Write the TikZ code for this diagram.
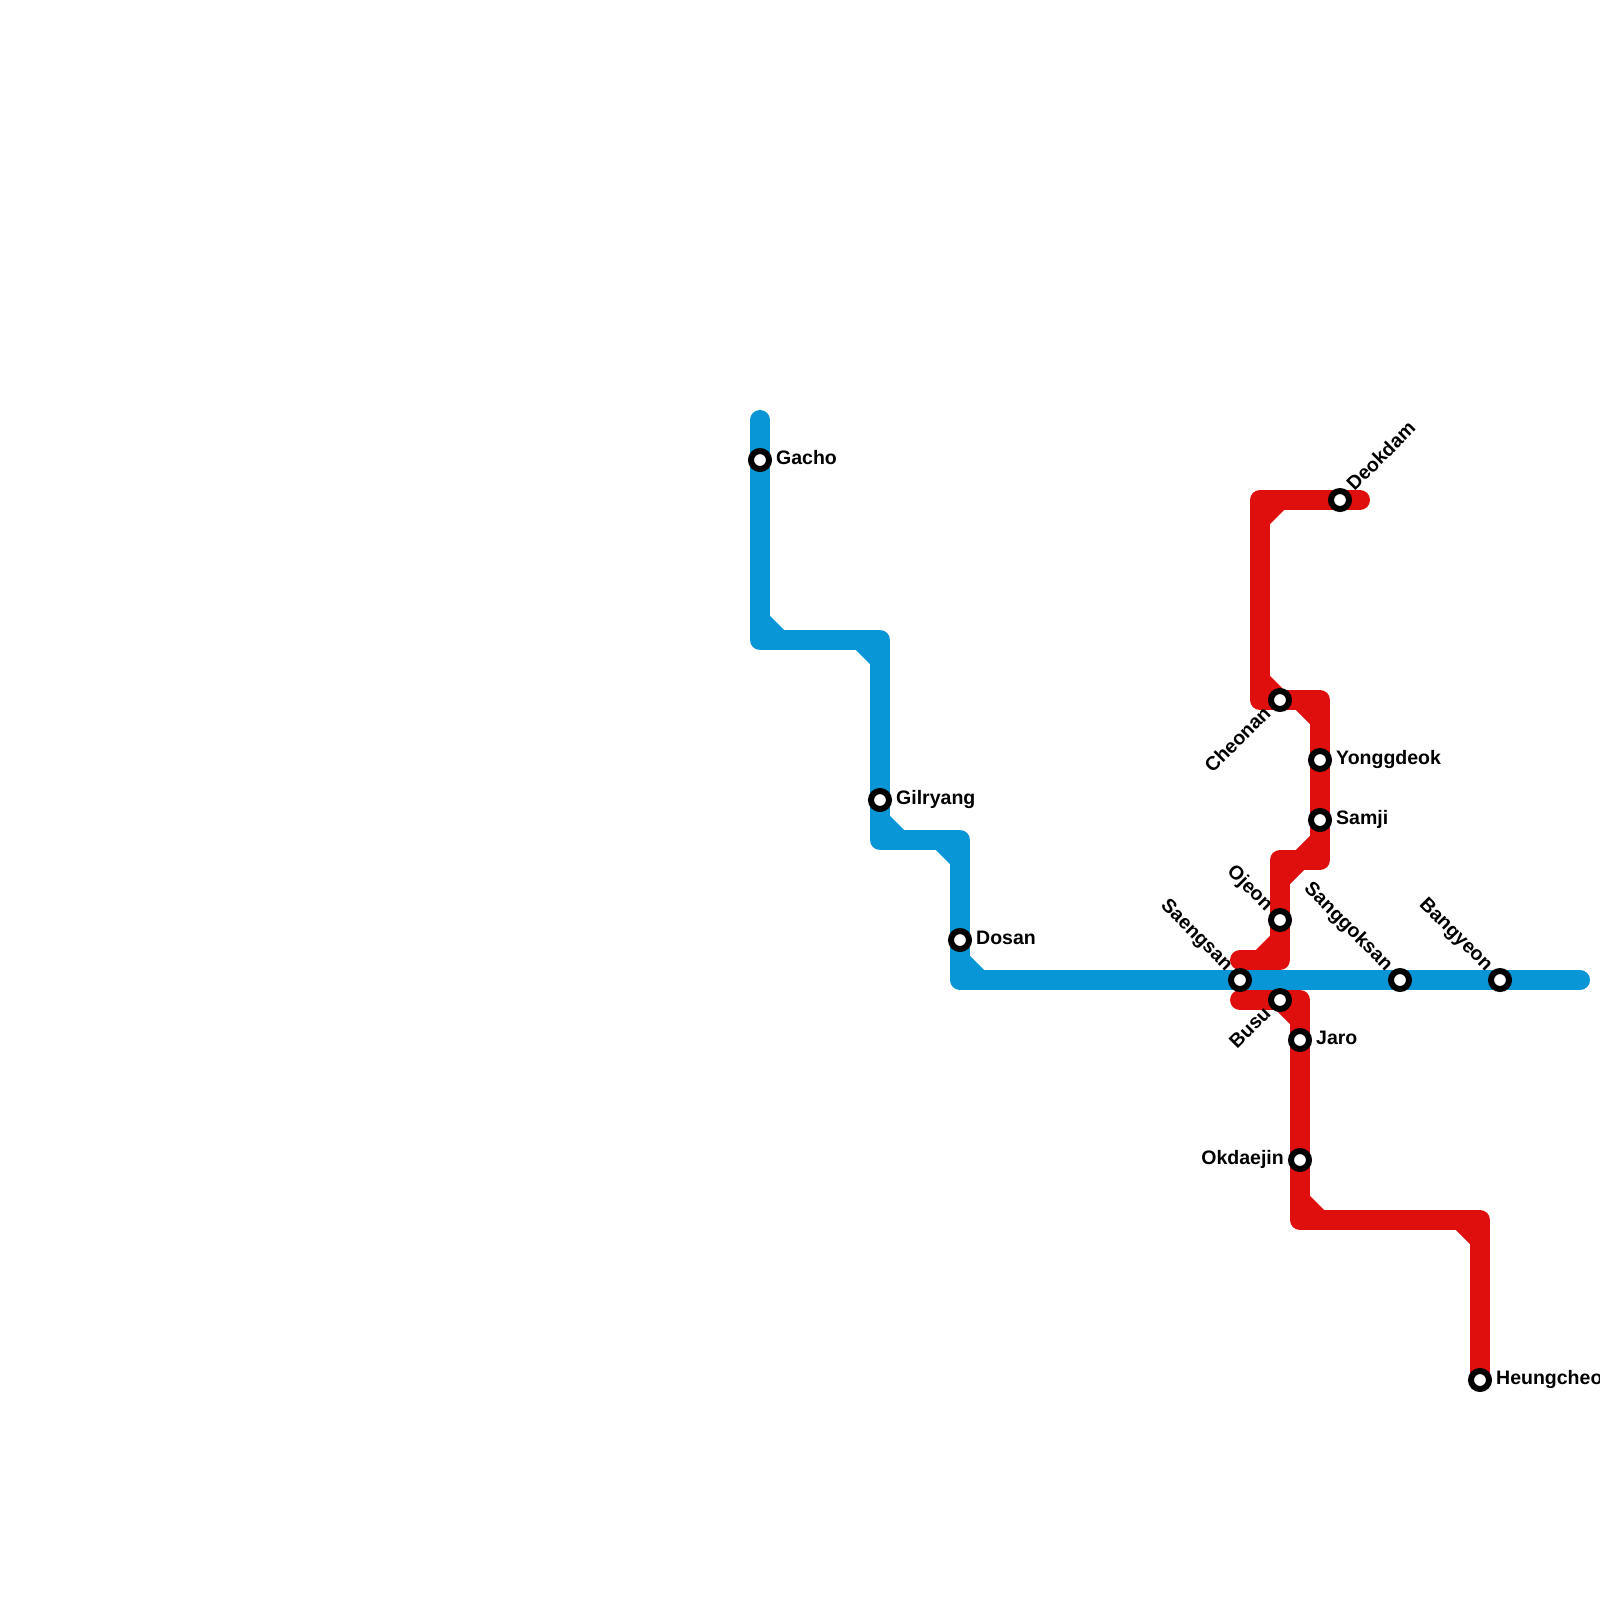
\documentclass[tikz,border=0pt]{standalone}
\usepackage{fontspec}
\setmainfont{Liberation Sans}
\usetikzlibrary{backgrounds}
\definecolor{lineblue}{HTML}{0896D7}
\definecolor{linered}{HTML}{DF0F0E}
\tikzset{
  stop/.style={draw=black, fill=white, circle, line width=0.06cm, minimum size=0.18cm, inner sep=0pt},
  stopname/.style={font=\fontsize{5.55}{6}\selectfont\bfseries, text height=0.14cm, text depth=0.05cm, inner sep=0.035cm},
  blueline/.style={draw=lineblue, line width=0.2cm, line cap=round, line join=round},
  redline/.style={draw=linered, line width=0.2cm, line cap=round, line join=round}
}
\begin{document}
\begin{tikzpicture}[x=0.2cm, y=-0.2cm]
    \useasboundingbox (0,0) rectangle (80,80);

    % Stations
    \node[stop] (gacho) at (38,23) {};
    \node[stop] (gilryang) at (44,40) {};
    \node[stop] (dosan) at (48,47) {};
    \node[stop] (saengsan) at (62,49) {};
    \node[stop] (sanggoksan) at (70,49) {};
    \node[stop] (bangyeon) at (75,49) {};
    \node[stop] (deokdam) at (67,25) {};
    \node[stop] (cheonan) at (64,35) {};
    \node[stop] (yonggdeok) at (66,38) {};
    \node[stop] (samji) at (66,41) {};
    \node[stop] (ojeon) at (64,46) {};
    \node[stop] (busu) at (64,50) {};
    \node[stop] (jaro) at (65,52) {};
    \node[stop] (okdaejin) at (65,58) {};
    \node[stop] (heungcheon) at (74,69) {};

    % Station names
    \node[stopname, anchor=west] (gacho_name) at (gacho.east) {Gacho};
    \node[stopname, anchor=west] (gilryang_name) at (gilryang.east) {Gilryang};
    \node[stopname, anchor=west] (dosan_name) at (dosan.east) {Dosan};
    \node[stopname, anchor=east, rotate=-45] (saengsan_name) at (saengsan.135) {Saengsan};
    \node[stopname, anchor=east, rotate=-45] (sanggoksan_name) at (sanggoksan.135) {Sanggoksan};
    \node[stopname, anchor=east, rotate=-45] (bangyeon_name) at (bangyeon.135) {Bangyeon};
    \node[stopname, anchor=west, rotate=45] (deokdam_name) at (deokdam.45) {Deokdam};
    \node[stopname, anchor=east, rotate=45] (cheonan_name) at (cheonan.225) {Cheonan};
    \node[stopname, anchor=west] (yonggdeok_name) at (yonggdeok.east) {Yonggdeok};
    \node[stopname, anchor=west] (samji_name) at (samji.east) {Samji};
    \node[stopname, anchor=east, rotate=-45] (ojeon_name) at (ojeon.135) {Ojeon};
    \node[stopname, anchor=east, rotate=45] (busu_name) at (busu.225) {Busu};
    \node[stopname, anchor=west] (jaro_name) at (jaro.east) {Jaro};
    \node[stopname, anchor=east] (okdaejin_name) at (okdaejin.west) {Okdaejin};
    \node[stopname, anchor=west] (heungcheon_name) at (heungcheon.east) {Heungcheon};

    % Bends and line ends
    \coordinate (blue_start) at (38,21);
    \coordinate (blue_a) at (38,32);
    \coordinate (blue_b) at (44,32);
    \coordinate (blue_c) at (44,42);
    \coordinate (blue_d) at (48,42);
    \coordinate (blue_e) at (48,49);
    \coordinate (blue_end) at (79,49);
    \coordinate (red_a) at (74,61);
    \coordinate (red_b) at (65,61);
    \coordinate (red_c) at (65,50);
    \coordinate (red_d) at (62,50);
    \coordinate (red_e) at (62,48);
    \coordinate (red_f) at (64,48);
    \coordinate (red_g) at (64,43);
    \coordinate (red_h) at (66,43);
    \coordinate (red_i) at (66,35);
    \coordinate (red_j) at (63,35);
    \coordinate (red_k) at (63,25);
    \coordinate (red_end) at (68,25);

    \begin{scope}[on background layer]
        % Red lines
        \draw[redline] (heungcheon.center) -- (red_a) -- (red_b) -- (okdaejin.center) -- (jaro.center) -- (red_c) -- (busu.center) -- (red_d);
        \draw[redline] (red_e) -- (red_f) -- (ojeon.center) -- (red_g) -- (red_h) -- (samji.center) -- (yonggdeok.center) -- (red_i) -- (cheonan.center) -- (red_j) -- (red_k) -- (deokdam.center) -- (red_end);
        \draw[redline, line cap=butt] (red_a) ++(-1,0) -- ++(1,1);
        \draw[redline, line cap=butt] (red_b) ++(0,-1) -- ++(1,1);
        \draw[redline, line cap=butt] (red_c) ++(-1,0) -- ++(1,1);
        \draw[redline, line cap=butt] (red_f) ++(-1,0) -- ++(1,-1);
        \draw[redline, line cap=butt] (red_g) ++(0,1) -- ++(1,-1);
        \draw[redline, line cap=butt] (red_h) ++(-1,0) -- ++(1,-1);
        \draw[redline, line cap=butt] (red_i) ++(-1,0) -- ++(1,1);
        \draw[redline, line cap=butt] (red_j) ++(0,-1) -- ++(1,1);
        \draw[redline, line cap=butt] (red_k) ++(0,1) -- ++(1,-1);

        % Blue line
        \draw[blueline] (blue_start) -- (gacho.center) -- (blue_a) -- (blue_b) -- (gilryang.center) -- (blue_c) -- (blue_d) -- (dosan.center) -- (blue_e) -- (saengsan.center) -- (sanggoksan.center) -- (bangyeon.center) -- (blue_end);
        \draw[blueline, line cap=butt] (blue_a) ++(0,-1) -- ++(1,1);
        \draw[blueline, line cap=butt] (blue_b) ++(-1,0) -- ++(1,1);
        \draw[blueline, line cap=butt] (blue_c) ++(0,-1) -- ++(1,1);
        \draw[blueline, line cap=butt] (blue_d) ++(-1,0) -- ++(1,1);
        \draw[blueline, line cap=butt] (blue_e) ++(0,-1) -- ++(1,1);
    \end{scope}
\end{tikzpicture}
\end{document}
